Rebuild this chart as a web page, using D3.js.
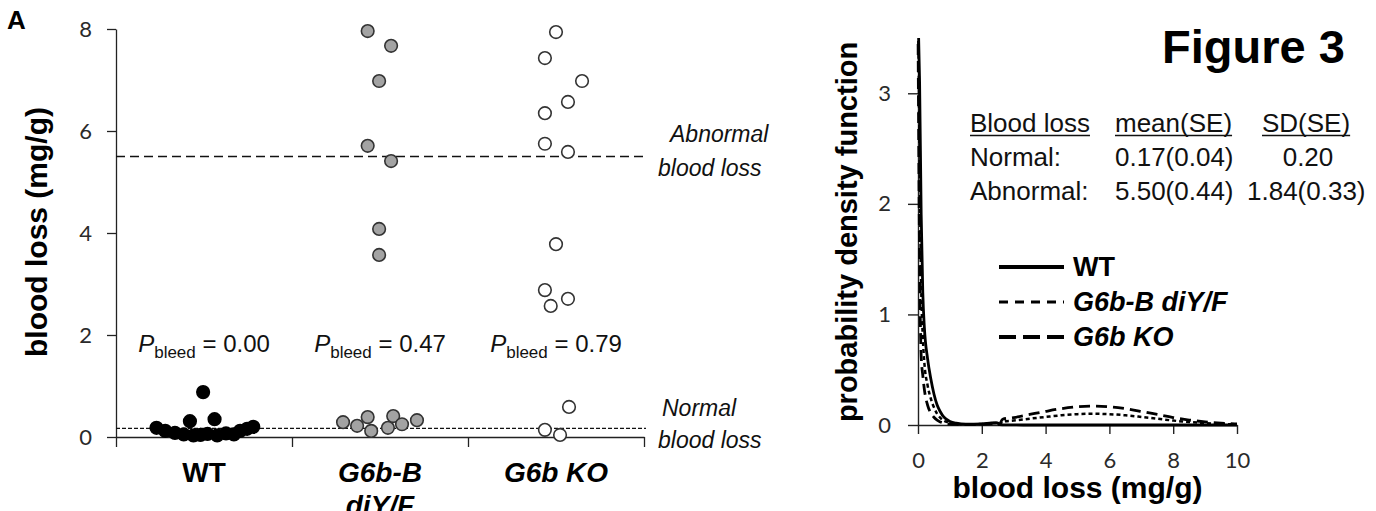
<!DOCTYPE html>
<html>
<head>
<meta charset="utf-8">
<script src="https://cdn.jsdelivr.net/npm/d3@7"></script>
<style>
  html, body { margin: 0; padding: 0; background: #fff; }
  svg { display: block; }
  .sans { font-family: "Liberation Sans", Arial, sans-serif; }
  .tick text { font-family: Lato, "Open Sans", sans-serif; fill: #2a2a2a; }
</style>
</head>
<body>
<script>
// ---------------- DATA ----------------
const categories = ["WT", "G6b-B diY/F", "G6b KO"];
const categoryLines = [["WT"], ["G6b-B", "diY/F"], ["G6b KO"]];
const pBleed = ["0.00", "0.47", "0.79"];

const wtValues  = [0.18, 0.12, 0.08, 0.05, 0.31, 0.03, 0.04, 0.88, 0.06, 0.35, 0.03, 0.07, 0.05, 0.12, 0.16, 0.20];
const wtJitter  = [-0.27, -0.22, -0.165, -0.115, -0.08, -0.06, -0.02, -0.005, 0.02, 0.06, 0.075, 0.125, 0.17, 0.205, 0.245, 0.28];

const gbValues  = [7.96, 7.67, 6.98, 5.71, 5.41, 4.08, 3.57, 0.29, 0.22, 0.39, 0.12, 0.18, 0.41, 0.25, 0.33];
const gbJitter  = [-0.07, 0.063, -0.005, -0.07, 0.063, -0.005, -0.005, -0.21, -0.13, -0.07, -0.05, 0.045, 0.075, 0.125, 0.21];

const koValues  = [7.94, 7.43, 6.98, 6.57, 6.35, 5.75, 5.59, 3.78, 2.88, 2.57, 2.71, 0.59, 0.14, 0.04];
const koJitter  = [0.0, -0.063, 0.148, 0.068, -0.063, -0.063, 0.068, 0.0, -0.063, -0.03, 0.068, 0.074, -0.063, 0.023];

const leftTicks = [0, 2, 4, 6, 8];
const abnormalMean = 5.5;
const normalMean = 0.17;

// density curves
const densX  = [0, 0.02, 0.05, 0.1, 0.15, 0.2, 0.3, 0.4, 0.5, 0.6, 0.7, 0.8, 0.9, 1.0, 1.2, 1.5, 2.0, 2.3, 2.5, 2.55, 2.65, 3.0, 3.5, 4.0, 4.5, 5.0, 5.5, 6.0, 6.5, 7.0, 7.5, 8.0, 8.5, 9.0, 9.5, 10];
const wtDens = [3.6, 3.5, 3.1, 1.9, 1.2, 0.88, 0.6, 0.42, 0.28, 0.18, 0.12, 0.075, 0.05, 0.032, 0.016, 0.008, 0.01, 0.018, 0.02, 0.003, 0.002, 0.001, 0, 0, 0, 0, 0, 0, 0, 0, 0, 0, 0, 0, 0, 0];
const gbDens = [3.6, 3.3, 2.4, 1.25, 0.8, 0.56, 0.36, 0.24, 0.16, 0.1, 0.065, 0.042, 0.028, 0.018, 0.01, 0.006, 0.01, 0.016, 0.02, 0.005, 0.032, 0.04, 0.057, 0.073, 0.088, 0.098, 0.102, 0.098, 0.088, 0.073, 0.057, 0.04, 0.027, 0.017, 0.01, 0.005];
const koDens = [3.6, 2.7, 1.5, 0.62, 0.45, 0.32, 0.18, 0.11, 0.07, 0.045, 0.028, 0.018, 0.012, 0.008, 0.005, 0.003, 0.006, 0.01, 0.014, 0.004, 0.052, 0.067, 0.095, 0.123, 0.148, 0.165, 0.171, 0.165, 0.148, 0.123, 0.095, 0.067, 0.045, 0.028, 0.016, 0.009];

const rightYTicks = [0, 1, 2, 3];
const rightXTicks = [0, 2, 4, 6, 8, 10];
const legendLabels = ["WT", "G6b-B diY/F", "G6b KO"];

const tableHeader = ["Blood loss", "mean(SE)", "SD(SE)"];
const tableRows = [["Normal:", "0.17(0.04)", "0.20"], ["Abnormal:", "5.50(0.44)", "1.84(0.33)"]];

// ---------------- CHART ----------------
const W = 1376, H = 511;
const svg = d3.select("body").append("svg").attr("width", W).attr("height", H)
  .attr("class", "sans");

// ===== Left panel =====
const yL = d3.scaleLinear().domain([0, 8]).range([437, 29]);
const xB = d3.scaleBand().domain(categories).range([116, 644]).padding(0);
const xEdge = d3.scaleLinear().domain([0, 3]).range([116, 644]);
const jit = d3.scaleLinear().domain([-0.5, 0.5]).range([-xB.step() / 2, xB.step() / 2]);
const cx = c => xB(c) + xB.bandwidth() / 2;

svg.append("text").attr("x", 7).attr("y", 29).attr("font-size", 26).attr("font-weight", "bold").text("A");

// y axis
const gyL = svg.append("g").attr("transform", "translate(116,0)")
  .call(d3.axisLeft(yL).tickValues(leftTicks).tickFormat(d3.format("d")).tickSize(9).tickPadding(15).tickSizeOuter(0));
gyL.selectAll("text").attr("font-size", 22);
gyL.selectAll("line,path").attr("stroke", "#222").attr("stroke-width", 1.3);

// x axis (ticks at category boundaries)
const gxL = svg.append("g").attr("transform", "translate(0,437)")
  .call(d3.axisBottom(xEdge).tickValues([0, 1, 2, 3]).tickFormat("").tickSize(10).tickSizeOuter(0));
gxL.selectAll("line,path").attr("stroke", "#222").attr("stroke-width", 1.3);

// y title
svg.append("text").attr("transform", "translate(47,232) rotate(-90)").attr("text-anchor", "middle")
  .attr("font-size", 30).attr("font-weight", "bold").text("blood loss (mg/g)");

// reference lines
svg.append("line").attr("x1", 116).attr("x2", 644).attr("y1", yL(abnormalMean)).attr("y2", yL(abnormalMean))
  .attr("stroke", "#111").attr("stroke-width", 1.3).attr("stroke-dasharray", "9,5");
svg.append("line").attr("x1", 116).attr("x2", 646).attr("y1", yL(normalMean)).attr("y2", yL(normalMean))
  .attr("stroke", "#111").attr("stroke-width", 1.2).attr("stroke-dasharray", "4,2");

// reference labels
const refLab = (x, y, t) => svg.append("text").attr("x", x).attr("y", y).attr("font-size", 23)
  .attr("font-style", "italic").attr("fill", "#111").text(t);
refLab(670, 142, "Abnormal");
refLab(658, 176, "blood loss");
refLab(662, 416, "Normal");
refLab(658, 448, "blood loss");

// points
const groups = [
  { c: categories[0], v: wtValues, j: wtJitter, fill: "#000", stroke: "#000" },
  { c: categories[1], v: gbValues, j: gbJitter, fill: "#a3a3a3", stroke: "#333" },
  { c: categories[2], v: koValues, j: koJitter, fill: "#fff", stroke: "#333" }
];
groups.forEach(g => {
  svg.append("g").selectAll("circle").data(g.v).join("circle")
    .attr("cx", (d, i) => cx(g.c) + jit(g.j[i]))
    .attr("cy", d => yL(d))
    .attr("r", 6.3)
    .attr("fill", g.fill).attr("stroke", g.stroke).attr("stroke-width", 1.6);
});

// P_bleed labels
categories.forEach((c, i) => {
  const t = svg.append("text").attr("x", cx(c)).attr("y", 352).attr("text-anchor", "middle")
    .attr("font-size", 24).attr("fill", "#111");
  t.append("tspan").attr("font-style", "italic").text("P");
  t.append("tspan").attr("font-size", 17).attr("dy", 6).text("bleed");
  t.append("tspan").attr("dy", -6).text(" = " + pBleed[i]);
});

// category labels
categoryLines.forEach((lines, i) => {
  lines.forEach((ln, k) => {
    svg.append("text").attr("x", cx(categories[i])).attr("y", 482 + k * 33).attr("text-anchor", "middle")
      .attr("font-size", 28).attr("font-weight", "bold").attr("font-style", i === 0 ? "normal" : "italic")
      .text(ln);
  });
});

// ===== Right panel =====
const xR = d3.scaleLinear().domain([0, 10]).range([918, 1237]);
const yR = d3.scaleLinear().domain([0, 3.5]).range([425, 38]);

svg.append("defs").append("clipPath").attr("id", "clipR").append("rect")
  .attr("x", 900).attr("y", 38).attr("width", 360).attr("height", 400);

const gyR = svg.append("g").attr("transform", "translate(918,0)")
  .call(d3.axisLeft(yR).tickValues(rightYTicks).tickFormat(d3.format("d")).tickSize(10).tickPadding(17).tickSizeOuter(0));
gyR.selectAll("text").attr("font-size", 22);
gyR.selectAll("line,path").attr("stroke", "#222").attr("stroke-width", 1.4);

const gxR = svg.append("g").attr("transform", "translate(0,425)")
  .call(d3.axisBottom(xR).tickValues(rightXTicks).tickFormat(d3.format("d")).tickSize(9).tickPadding(18).tickSizeOuter(0));
gxR.selectAll("text").attr("font-size", 22);
gxR.selectAll("line,path").attr("stroke", "#222").attr("stroke-width", 1.4);

svg.append("text").attr("x", (918 + 1237) / 2).attr("y", 498).attr("text-anchor", "middle")
  .attr("font-size", 30).attr("font-weight", "bold").text("blood loss (mg/g)");
svg.append("text").attr("transform", "translate(857,232) rotate(-90)").attr("text-anchor", "middle")
  .attr("font-size", 29).attr("font-weight", "bold").text("probability density function");

const line = d3.line().x(d => xR(d[0])).y(d => yR(d[1])).curve(d3.curveMonotoneX);
const series = [
  { d: wtDens, dash: null, w: 2.8 },
  { d: gbDens, dash: "4,3", w: 2.5 },
  { d: koDens, dash: "11,6", w: 2.8 }
];
const curveG = svg.append("g").attr("clip-path", "url(#clipR)");
series.forEach(s => {
  curveG.append("path").datum(densX.map((x, i) => [x, s.d[i]]))
    .attr("d", line).attr("fill", "none").attr("stroke", "#000")
    .attr("stroke-width", s.w).attr("stroke-dasharray", s.dash);
});

// legend
const legendDash = [null, "9,7", "17,7"];
const legendW = [4, 3, 4];
const legendY = d3.scalePoint().domain(legendLabels).range([267, 337]);
legendLabels.forEach((lab, i) => {
  const y = legendY(lab);
  svg.append("line").attr("x1", 999).attr("x2", 1064).attr("y1", y).attr("y2", y)
    .attr("stroke", "#000").attr("stroke-width", legendW[i]).attr("stroke-dasharray", legendDash[i]);
  svg.append("text").attr("x", 1073).attr("y", y + 9).attr("font-size", 27).attr("font-weight", "bold")
    .attr("font-style", i === 0 ? "normal" : "italic").text(lab);
});

// Figure title
svg.append("text").attr("x", 1162).attr("y", 63).attr("font-size", 47).attr("font-weight", "bold").text("Figure 3");

// table
const colX = [970, 1115, 1262];
const rowY = [132, 166, 200];
tableHeader.forEach((h, i) => {
  const t = svg.append("text").attr("x", colX[i]).attr("y", rowY[0]).attr("font-size", 26).attr("fill", "#111").text(h);
  const w = t.node().getComputedTextLength();
  svg.append("line").attr("x1", colX[i]).attr("x2", colX[i] + w).attr("y1", rowY[0] + 3.5).attr("y2", rowY[0] + 3.5)
    .attr("stroke", "#111").attr("stroke-width", 1.6);
});
tableRows.forEach((r, ri) => {
  r.forEach((cell, ci) => {
    let x = colX[ci];
    let anchor = "start";
    if (ci === 2 && ri === 0) { x = 1308; anchor = "middle"; }
    if (ci === 2 && ri === 1) { x = 1247; }
    svg.append("text").attr("x", x).attr("y", rowY[ri + 1]).attr("text-anchor", anchor)
      .attr("font-size", 26).attr("fill", "#111").text(cell);
  });
});
</script>
</body>
</html>
